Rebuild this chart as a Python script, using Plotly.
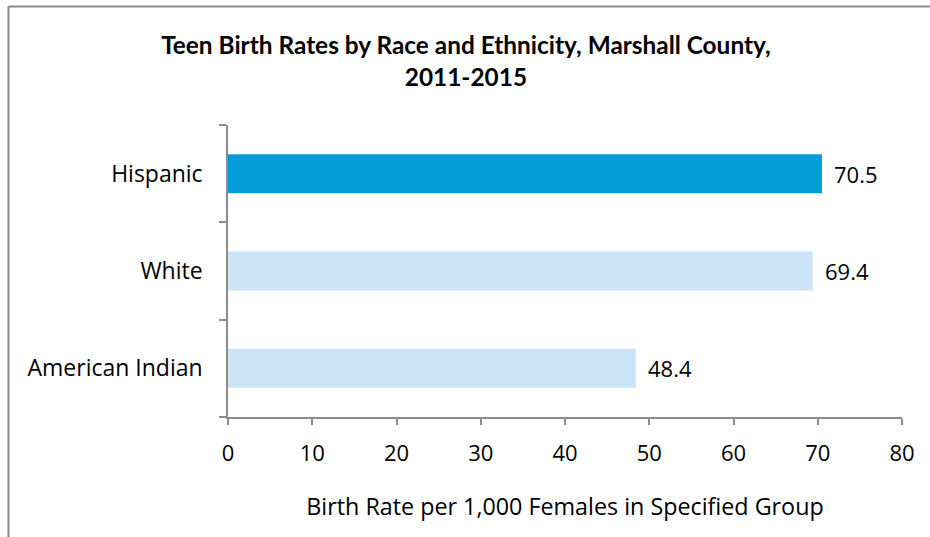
import plotly.graph_objects as go

categories = ["American Indian", "White", "Hispanic"]
values = [48.4, 69.4, 70.5]
bar_colors = ["#CCE4F8", "#CCE4F8", "#009DDA"]
value_labels = ["48.4", "69.4", "70.5"]
x_ticks = [0, 10, 20, 30, 40, 50, 60, 70, 80]

FONT = "Open Sans, sans-serif"
TITLE_FONT = "Lato, Open Sans, sans-serif"
AXIS_COLOR = "#8c8c8c"

fig = go.Figure()
fig.add_trace(go.Bar(
    y=categories, x=values, orientation="h",
    marker=dict(color=bar_colors, line=dict(width=0)),
    hoverinfo="skip", showlegend=False,
))

for c, v, t in zip(categories, values, value_labels):
    fig.add_annotation(x=v, y=c, text=t, showarrow=False, xanchor="left",
                       xshift=10, font=dict(family=FONT, size=22, color="#000000"))

fig.update_layout(
    width=930, height=537,
    margin=dict(l=228, r=28, t=125, b=120),
    paper_bgcolor="white", plot_bgcolor="white",
    bargap=0.6,
    title=dict(text="<b>Teen Birth Rates by Race and Ethnicity, Marshall County,<br>2011-2015</b>",
               x=0.501, xanchor="center", y=0.899, yanchor="middle",
               font=dict(family=TITLE_FONT, size=24.4, color="#000000")),
    xaxis=dict(range=[0, 80], tickvals=x_ticks, ticktext=[str(t) for t in x_ticks],
               showgrid=False, zeroline=False, showline=True, linecolor=AXIS_COLOR, linewidth=1.5,
               ticks="outside", ticklen=6, tickcolor=AXIS_COLOR, tickwidth=1.5,
               ticklabelstandoff=10,
               tickfont=dict(family=FONT, size=22, color="#000000"),
               title=dict(text="Birth Rate per 1,000 Females in Specified Group", standoff=33,
                          font=dict(family=FONT, size=23.3, color="#000000")),
               fixedrange=True),
    yaxis=dict(type="category", categoryorder="array", categoryarray=categories,
               showgrid=False, zeroline=False, showline=True, linecolor=AXIS_COLOR, linewidth=1.5,
               ticks="outside", tickson="boundaries", ticklen=7, tickcolor=AXIS_COLOR, tickwidth=1.5,
               ticklabelstandoff=19,
               tickfont=dict(family=FONT, size=23, color="#000000"), fixedrange=True),
    shapes=[
        dict(type="line", xref="paper", yref="paper", x0=-0.3257, x1=1.05, y0=1.4058, y1=1.4058,
             line=dict(color="#888888", width=2)),
        dict(type="line", xref="paper", yref="paper", x0=-0.3257, x1=-0.3257, y0=1.4058, y1=-0.42,
             line=dict(color="#888888", width=2)),
    ],
)

fig.write_html("out.html", config={"displayModeBar": False},
               post_script="document.body.style.margin='0';")
